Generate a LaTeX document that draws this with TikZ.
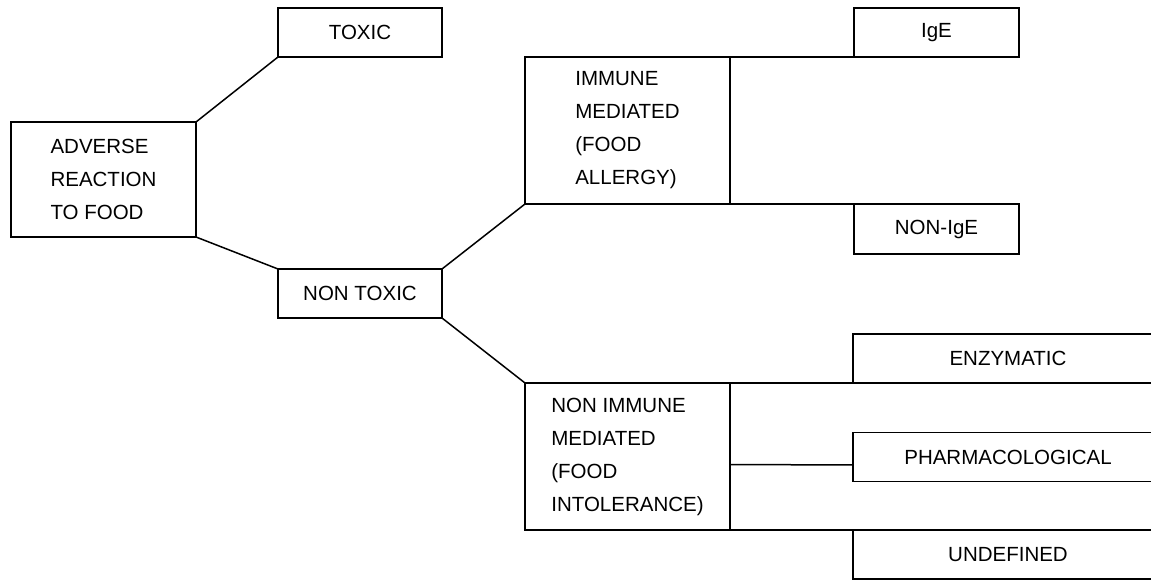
\documentclass[tikz,border=0pt]{standalone}
\usepackage{fontspec}
\setmainfont{Liberation Sans}

\tikzset{>=latex}
\tikzset{box/.style={draw,line width=1.5pt,inner sep=0pt,outer sep=0pt,
    font=\fontsize{20.5}{33}\selectfont}}

\begin{document}
\begin{tikzpicture}[x=1pt,y=-1pt,line width=1.5pt]
  \useasboundingbox (0,0) rectangle (1151,580);
  \clip (0,0) rectangle (1151,580);
  % first level
  \node[box,minimum width=185,minimum height=115,align=left] (adverse) at (103.5,179.5)
    {ADVERSE\\REACTION\\TO FOOD};
  \node[box,minimum width=164,minimum height=49] (toxic) at (360,32.5) {TOXIC};
  \node[box,minimum width=164,minimum height=49] (nontoxic) at (360,293.5) {NON TOXIC};
  % second level
  \node[box,minimum width=205,minimum height=147,align=left] (immune) at (627.5,130.5)
    {IMMUNE\\MEDIATED\\(FOOD\\ALLERGY)};
  \node[box,minimum width=205,minimum height=147,align=left] (nonimmune) at (627.5,456.5)
    {NON IMMUNE\\MEDIATED\\(FOOD\\INTOLERANCE)};
  % third level
  \node[box,minimum width=165,minimum height=49] (ige) at (936.5,32.5) {IgE};
  \node[box,minimum width=165,minimum height=50] (nonige) at (936.5,229) {NON-IgE};
  \foreach \N/\T/\Y in {enzymatic/ENZYMATIC/358.5,pharma/PHARMACOLOGICAL/457,undefined/UNDEFINED/554.5} {%
    \node[box,minimum width=310,minimum height=49] (\N) at (1008,\Y) {\T};
  }
  % connectors
  \draw (adverse.north east) -- (toxic.south west);
  \draw (adverse.south east) -- (nontoxic.north west);
  \draw (nontoxic.north east) -- (immune.south west);
  \draw (nontoxic.south east) -- (nonimmune.north west);
  \draw (immune.north east) -- (ige.south west);
  \draw (immune.south east) -- (nonige.north west);
  \draw (nonimmune.north east) -- (enzymatic.south west);
  \draw ([yshift=-8pt]nonimmune.east) -- ([yshift=-8pt]pharma.west);
  \draw (nonimmune.south east) -- (undefined.north west);
\end{tikzpicture}
\end{document}
